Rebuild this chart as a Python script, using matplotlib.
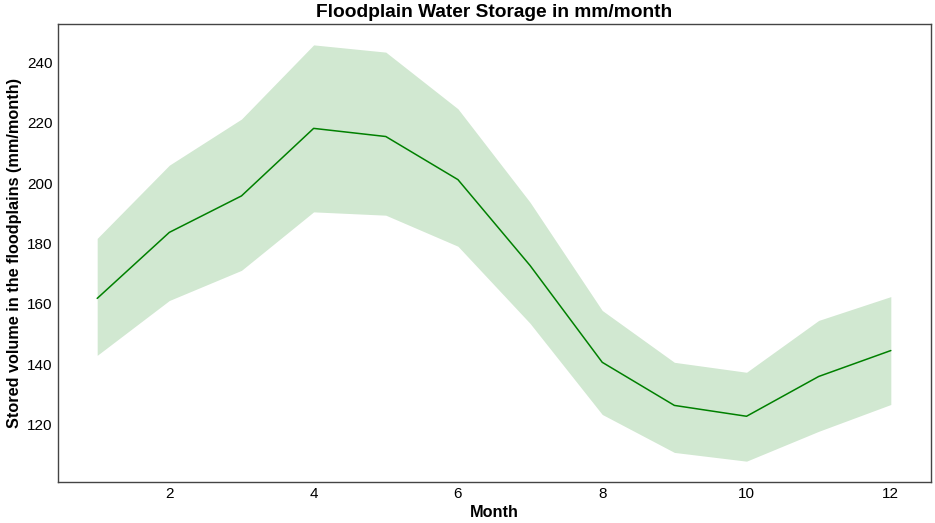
import matplotlib
matplotlib.use("Agg")
import matplotlib.pyplot as plt
import seaborn as sns

months = [1, 2, 3, 4, 5, 6, 7, 8, 9, 10, 11, 12]
storage_mean = [161.8, 183.7, 195.8, 218.2, 215.5, 201.2, 172.7, 140.6, 126.3, 122.7, 135.9, 144.5]
ci_lower = [142.9, 161.1, 171.1, 190.5, 189.4, 179.1, 153.5, 123.3, 110.7, 107.8, 117.7, 126.6]
ci_upper = [181.7, 206.0, 221.3, 245.9, 243.5, 224.7, 193.7, 157.8, 140.6, 137.3, 154.5, 162.4]

sns.set_style("white")
plt.rcParams['font.family'] = ['Liberation Sans', 'DejaVu Sans']
plt.rcParams['text.color'] = 'black'
plt.rcParams['axes.labelcolor'] = 'black'
plt.rcParams['xtick.color'] = 'black'
plt.rcParams['ytick.color'] = 'black'

fig, ax = plt.subplots(figsize=(9.35, 5.23), dpi=100)
fig.subplots_adjust(left=0.0615, right=0.9952, top=0.954, bottom=0.0784)

ax.fill_between(months, ci_lower, ci_upper, color='green', alpha=0.18, linewidth=0)
ax.plot(months, storage_mean, color='green', linewidth=1.1)
ax.margins(x=0.05, y=0.05)
ax.set_xlim(0.45, 12.55)

ax.set_title('Floodplain Water Storage in mm/month', fontsize=13.8, fontweight='bold', pad=5)
ax.set_xlabel('Month', fontsize=11.7, fontweight='bold', labelpad=3)
ax.set_ylabel('Stored volume in the floodplains (mm/month)', fontsize=11.7, fontweight='bold')
ax.tick_params(labelsize=11, length=0)
ax.set_xticks([2, 4, 6, 8, 10, 12])
ax.set_yticks([120, 140, 160, 180, 200, 220, 240])
for s in ax.spines.values():
    s.set_color('#444444')
    s.set_linewidth(1.0)

fig.savefig('out.png', dpi=100)
